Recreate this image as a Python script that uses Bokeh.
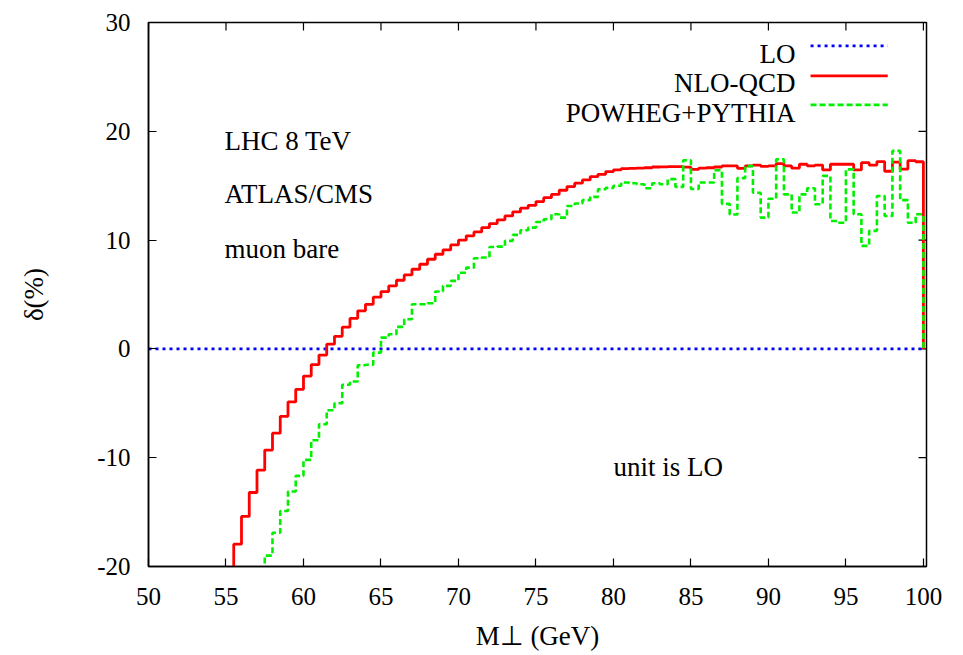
from bokeh.plotting import figure
from bokeh.models import Range1d, FixedTicker, Label
from bokeh.embed import file_html
from bokeh.resources import INLINE

# ---------------- data ----------------
BIN_WIDTH = 0.5  # GeV

x_ticks = [50, 55, 60, 65, 70, 75, 80, 85, 90, 95, 100]
x_tick_labels = ["50", "55", "60", "65", "70", "75", "80", "85", "90", "95", "100"]
y_ticks = [-20, -10, 0, 10, 20, 30]
y_tick_labels = ["-20", "-10", "0", "10", "20", "30"]

# LO is the unit: delta = 0 over the whole range
lo_x = [50.0, 100.0]
lo_delta = [0.0, 0.0]

# NLO-QCD, bins of 0.5 GeV starting at 55.0 GeV (first bin is below the frame)
nlo_start = 55.0
nlo_qcd = [
    -21.0, -17.95, -15.4, -13.2, -11.15, -9.3, -7.75, -6.2, -4.87, -3.72,
    -2.5, -1.44, -0.57, 0.43, 1.16, 2.0, 2.8, 3.5, 4.1, 4.75,
    5.27, 5.79, 6.31, 6.8, 7.32, 7.78, 8.24, 8.7, 9.1, 9.56,
    9.99, 10.39, 10.75, 11.15, 11.52, 11.86, 12.22, 12.59, 12.93, 13.2,
    13.54, 13.9, 14.2, 14.58, 14.92, 15.23, 15.53, 15.84, 16.05, 16.3,
    16.45, 16.57, 16.6, 16.62, 16.65, 16.72, 16.73, 16.75, 16.75, 16.7,
    16.5, 16.62, 16.65, 16.72, 16.82, 16.82, 16.6, 16.82, 16.9, 16.78,
    16.82, 17.03, 16.82, 16.61, 16.97, 16.82, 16.9, 16.45, 16.97, 16.97,
    16.97, 16.45, 17.12, 16.9, 17.22, 16.33, 17.17, 16.52, 17.3, 17.2,
]

# POWHEG+PYTHIA, bins of 0.5 GeV starting at 57.0 GeV (first bin is below the frame)
powheg_start = 57.0
powheg_pythia = [
    -21.5, -19.0, -16.9, -14.9, -13.1, -11.67, -10.2, -8.4, -6.92, -5.64,
    -5.0, -3.3, -3.0, -1.5, -1.45, -0.34, 1.04, 1.35, 2.02, 2.73,
    4.1, 4.1, 4.2, 5.27, 5.79, 6.25, 7.0, 7.47, 8.33, 8.4,
    9.37, 9.4, 9.93, 10.48, 10.91, 11.15, 11.67, 11.92, 12.38, 12.07,
    13.14, 13.36, 13.67, 13.97, 14.68, 14.8, 15.0, 15.29, 15.23, 15.14,
    14.77, 15.23, 15.14, 15.6, 14.89, 17.34, 14.7, 15.3, 15.3, 16.42,
    13.33, 12.35, 15.7, 16.8, 14.35, 12.07, 13.8, 17.43, 14.2, 12.53,
    14.2, 14.77, 13.3, 15.9, 11.76, 11.6, 16.5, 12.38, 9.47, 10.85,
    14.06, 12.22, 18.2, 13.67, 11.6, 12.38,
]
END_VALUE = 0.0  # histogram closes down to 0 at the upper edge

series_names = ["LO", "NLO-QCD", "POWHEG+PYTHIA"]
series_colors = ["#0000ff", "#ff0000", "#00f000"]


def step_edges(start, values):
    xs = [start + BIN_WIDTH * i for i in range(len(values) + 1)]
    ys = list(values) + [END_VALUE]
    return xs, ys


# ---------------- figure ----------------
SERIF = "'Liberation Serif', 'DejaVu Serif', 'Times New Roman', serif"
AXIS_SERIF = "Liberation Serif"

W, H = 963, 655
BL, BR, BT, BB = 148, 37, 22, 89
X0, X1 = 50.0, 100.2
Y0, Y1 = -20.0, 30.0
px_x = (W - BL - BR) / (X1 - X0)   # pixels per GeV
px_y = (H - BT - BB) / (Y1 - Y0)   # pixels per %
TICK = 8

p = figure(width=W, height=H,
           x_range=Range1d(X0, X1), y_range=Range1d(Y0, Y1),
           output_backend="svg", toolbar_location=None,
           min_border_left=BL, min_border_right=BR,
           min_border_top=BT, min_border_bottom=BB)
p.xgrid.visible = False
p.ygrid.visible = False
p.background_fill_color = "white"
p.border_fill_color = "white"
p.outline_line_color = "black"
p.outline_line_width = 1.5


def style_axis(ax, ticks, labels, standoff):
    ax.ticker = FixedTicker(ticks=ticks)
    ax.major_label_overrides = {t: l for t, l in zip(ticks, labels)}
    ax.minor_tick_line_color = None
    ax.major_tick_in = TICK
    ax.major_tick_out = 0
    ax.major_tick_line_color = "black"
    ax.major_tick_line_width = 1.2
    ax.axis_line_color = "black"
    ax.axis_line_width = 1.5
    ax.major_label_text_font = AXIS_SERIF
    ax.major_label_text_font_size = "25px"
    ax.major_label_text_color = "black"
    ax.major_label_standoff = standoff
    ax.axis_label_text_font = AXIS_SERIF
    ax.axis_label_text_font_size = "27px"
    ax.axis_label_text_font_style = "normal"
    ax.axis_label_text_color = "black"


style_axis(p.xaxis[0], x_ticks, x_tick_labels, 21)
style_axis(p.yaxis[0], y_ticks, y_tick_labels, 18)
p.xaxis[0].axis_label = "M⊥ (GeV)"
p.xaxis[0].axis_label_standoff = 13
p.yaxis[0].axis_label = "δ(%)"
p.yaxis[0].axis_label_standoff = 45

# mirrored inward ticks on the top and right borders (gnuplot style)
p.segment(x0=x_ticks, y0=[Y1] * len(x_ticks), x1=x_ticks,
          y1=[Y1 - TICK / px_y] * len(x_ticks), line_color="black", line_width=1.2)
p.segment(x0=[X1] * len(y_ticks), y0=y_ticks, x1=[X1 - TICK / px_x] * len(y_ticks),
          y1=y_ticks, line_color="black", line_width=1.2)

DOT = "3 4"
DASH = "6 3"

# ---------------- series ----------------
p.line(lo_x, lo_delta, line_color=series_colors[0], line_width=2.6,
       line_dash=DOT)
nx, ny = step_edges(nlo_start, nlo_qcd)
p.step(nx, ny, mode="after", line_color=series_colors[1], line_width=2.8)
gx, gy = step_edges(powheg_start, powheg_pythia)
p.step(gx, gy, mode="after", line_color=series_colors[2], line_width=2.6,
       line_dash=DASH)

# ---------------- legend (gnuplot style: text right-aligned, sample to its right) ----
legend_text_y = [27.09, 24.4, 21.72]
legend_line_y = [27.85, 25.09, 22.43]
legend_dashes = [DOT, "solid", DASH]
for name, col, ty, ly, dash in zip(series_names, series_colors, legend_text_y,
                                   legend_line_y, legend_dashes):
    p.add_layout(Label(x=91.75, y=ty, text=name, text_align="right",
                       text_baseline="alphabetic", text_font=SERIF,
                       text_font_size="27px", text_color="black"))
    p.segment(x0=[92.72], y0=[ly], x1=[97.7], y1=[ly], line_color=col,
              line_width=2.7, line_dash=dash)

# ---------------- annotations ----------------
for txt, yy in [("LHC 8 TeV", 19.1), ("ATLAS/CMS", 14.2), ("muon bare", 9.2)]:
    p.add_layout(Label(x=54.9, y=yy, text=txt, text_align="left",
                       text_baseline="alphabetic", text_font=SERIF,
                       text_font_size="27px", text_color="black"))
p.add_layout(Label(x=80.0, y=-10.85, text="unit is LO", text_align="left",
                   text_baseline="alphabetic", text_font=SERIF,
                   text_font_size="27px", text_color="black"))

open("out.html", "w").write(file_html(p, INLINE))
